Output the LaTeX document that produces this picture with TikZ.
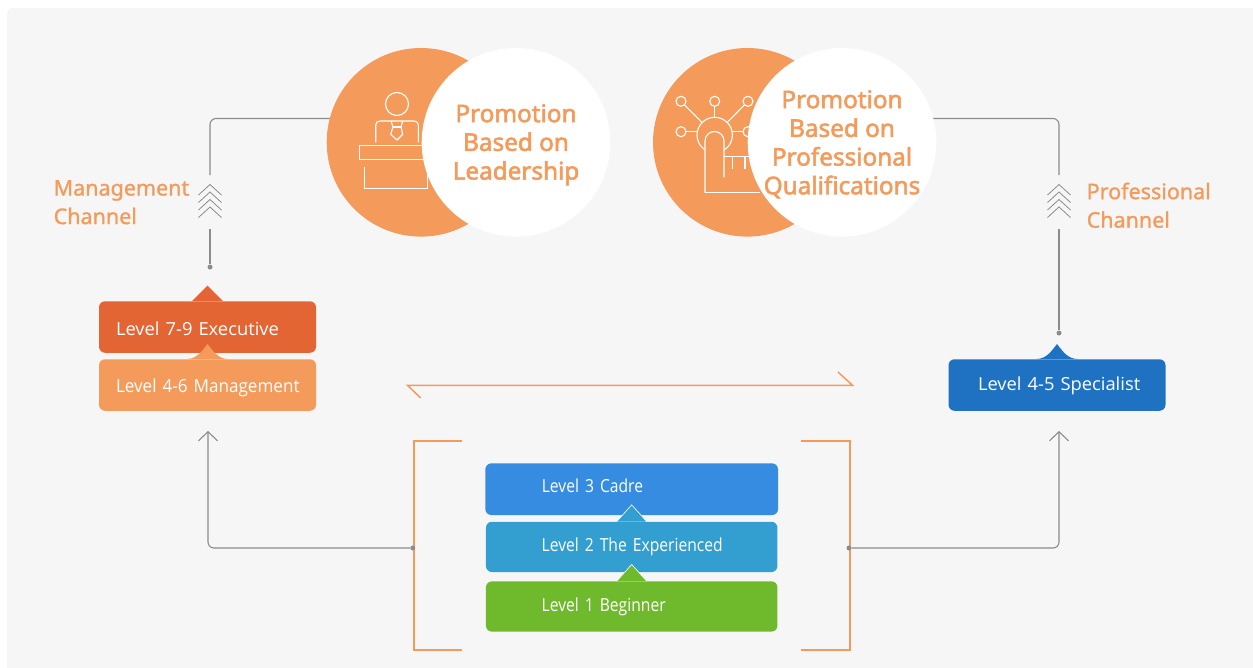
\documentclass[tikz,border=0pt]{standalone}
\usepackage{fontspec}
\usetikzlibrary{arrows.meta}
\setmainfont{Open Sans}
\newfontfamily\headf[FakeBold=2.2]{Noto Sans}
\newfontfamily\chanf[FakeBold=1.2]{Noto Sans}
\newfontfamily\lvw[FakeStretch=1.02]{Open Sans}
\newfontfamily\lvf[FakeStretch=0.95]{Open Sans}
\newfontfamily\lvn[FakeStretch=0.87]{Open Sans}
\definecolor{panel}{HTML}{F6F6F6}
\definecolor{org}{HTML}{F49B5B}
\definecolor{ln}{HTML}{8C8C8C}
\definecolor{cexec}{HTML}{E36533}
\definecolor{cspec}{HTML}{1E72C1}
\definecolor{cthree}{HTML}{368CE1}
\definecolor{ctwo}{HTML}{339FD0}
\definecolor{cone}{HTML}{6FBA2C}
\tikzset{
  lv/.style n args={4}{draw=none,fill=#3,rounded corners=6,minimum width=#1pt,minimum height=#4pt,
     text width=#1pt-2pt,text height=12pt,text depth=4pt,inner xsep=0pt,inner ysep=0pt,align=left,text=white,
     execute at begin node={\hspace*{#2pt}}},
  big/.style={circle,fill=org,minimum size=188.6pt,inner sep=0pt},
  wht/.style={circle,fill=white,minimum size=188.6pt,inner sep=0pt},
  whtt/.style={text=org,align=center,inner sep=0pt,font=\headf\fontsize{24.3}{28.7}\selectfont},
  chan/.style={text=org,align=left,anchor=north west,inner sep=0pt,font=\chanf\fontsize{21.5}{28.5}\selectfont},
  gl/.style={draw=ln,line width=1.1pt,rounded corners=6pt},
  ol/.style={draw=org,line width=1.5pt},
  dotn/.style={circle,fill=ln,inner sep=0pt,minimum size=5pt},
  ic/.style={draw=white,line width=1.1pt},
  barb/.style={-{Straight Barb[length=9pt,width=19pt,line width=1.1pt]}}
}
\begin{document}
\begin{tikzpicture}[x=1pt,y=-1pt]
\useasboundingbox (0,0) rectangle (1253,667);
\fill[white] (0,0) rectangle (1253,667);
\fill[panel,rounded corners=6pt] (7,8) rectangle (1262,690);
% coordinates and dots
\coordinate (lin) at (421,118.5);
\coordinate (rin) at (842,118.5);
\coordinate (lbend) at (210,118.5);
\coordinate (rbend) at (1059,118.5);
\coordinate (lch) at (210,175);
\coordinate (rch) at (1059,175);
\coordinate (lcb) at (210,229);
\coordinate (rcb) at (1059,229);
% orange brackets and arrow
\coordinate (ha) at (420.7,398);
\coordinate (hb) at (407.5,385.3);
\coordinate (hc) at (852.5,385.3);
\coordinate (hd) at (838,372);
\draw[ol] (ha) -- (hb) -- (hc) -- (hd);
\coordinate (brka) at (462,441.2);
\coordinate (brkb) at (413.8,441.2);
\coordinate (brkc) at (413.8,649.8);
\coordinate (brkd) at (462,649.8);
\draw[ol] (brka) -- (brkb) -- (brkc) -- (brkd);
\coordinate (brke) at (801,441.2);
\coordinate (brkf) at (849.8,441.2);
\coordinate (brkg) at (849.8,649.8);
\coordinate (brkh) at (801,649.8);
\draw[ol] (brke) -- (brkf) -- (brkg) -- (brkh);
\node[dotn] (ldot) at (210,267) {};
\node[dotn] (rdot) at (1059,333) {};
\node[dotn] (bl) at (412.8,548) {};
\node[dotn] (br) at (849,548) {};
\coordinate (al) at (208,431);
\coordinate (ar) at (1059,431);
\draw[gl] (lin) -- (lbend) -- (lch);
\draw[gl] (rin) -- (rbend) -- (rch);
\draw[gl] (lcb) -- (ldot);
\draw[gl] (rcb) -- (rdot);
\draw[gl,barb] (bl) -- (al |- bl) -- (al);
\draw[gl,barb] (br) -- (ar |- br) -- (ar);
% chevrons
\foreach \c in {lch,rch}{
  \foreach \d in {9.5,17,24.5,32}{
    \draw[draw=ln,line width=.8pt] ([xshift=-11.5pt,yshift=-\d pt-10.5pt]\c) -- ([yshift=-\d pt]\c) -- ([xshift=11.5pt,yshift=-\d pt-10.5pt]\c);
  }
}
% circles
\node[big] (ca) at (421,142.3) {};
\node[big] (cb) at (747.3,142.3) {};
% icon 1
\draw[ic] (397,104) circle (11.5);
\draw[ic,rounded corners=4pt] (375.7,142.3) -- (375.7,121) -- (418.3,121) -- (418.3,142.3);
\draw[ic,line join=round] (391,121) -- (393,127) -- (390.7,134.3) -- (397,140) -- (402.7,134.3) -- (401,127) -- (402.7,121);
\draw[ic] (393,127) -- (401,127);
\draw[ic] (430,145.3) -- (359.3,145.3) -- (359.3,159.3) -- (430,159.3);
\draw[ic] (364.3,167) -- (364.3,188.7) -- (427.7,188.7) -- (427.7,170);
% icon 2
\foreach \p in {(681,101.3),(714.7,101.3),(748,101.3),(681,131.7),(748,131.7)} \draw[ic] \p circle (5);
\draw[ic] (714.7,135) circle (17.7);
\draw[ic] (684.6,104.9) -- (702.2,122.5);
\draw[ic] (714.7,106.3) -- (714.7,117.3);
\draw[ic] (744.4,104.9) -- (727.2,122.5);
\draw[ic] (686,131.7) -- (697.2,131.7);
\draw[ic] (743,131.7) -- (732.2,131.7);
\draw[ic,fill=org] (705,192.7) -- (705,141) arc (180:360:9.5) -- (724,177.3);
\draw[ic] (705,192.7) -- (760,192.7);
\draw[ic] (724,156.7) -- (770,156.7);
\draw[ic] (732.7,156.7) -- (732.7,169);
\draw[ic] (745,156.7) -- (745,169);
% white circles
\node[wht] (wa) at (516,142.3) {};
\node[wht] (wb) at (842,142.3) {};
\node[whtt] (ta) at ([yshift=-2.5pt]wa.center) {Promotion\\Based on\\Leadership};
\node[whtt] (tb) at ([yshift=-2pt]wb.center) {Promotion\\Based on\\Professional\\Qualifications};
% channel labels
\node[chan] (mc) at (53.5,180) {Management\\Channel};
\node[chan] (pc) at (1086.5,182.5) {Professional\\Channel};
% level boxes
\node[lv={217}{16}{cexec}{51.5},font=\lvw\fontsize{18}{20}\selectfont] (exec) at (207.5,327) {\raisebox{-4pt}{Level 7-9 Executive}};
\fill[cexec] ([xshift=-15.5pt]exec.north) -- ([yshift=15.5pt]exec.north) -- ([xshift=15.5pt]exec.north) -- cycle;
\node[lv={217}{16}{org}{51.5},font=\lvf\fontsize{18}{20}\selectfont] (mgmt) at (207.5,385) {\raisebox{-3.7pt}{Level 4-6 Management}};
\fill[org] ([xshift=-21pt]mgmt.north) .. controls +(11,0) and +(-5,6) .. ([yshift=15pt]mgmt.north) .. controls +(5,6) and +(-11,0) .. ([xshift=21pt]mgmt.north) -- cycle;
\node[lv={217}{28.5}{cspec}{51.5},font=\lvw\fontsize{18}{20}\selectfont] (spec) at (1057,385) {\raisebox{-1pt}{Level 4-5 Specialist}};
\fill[cspec] ([xshift=-21pt]spec.north) .. controls +(11,0) and +(-5,6) .. ([yshift=15pt]spec.north) .. controls +(5,6) and +(-11,0) .. ([xshift=21pt]spec.north) -- cycle;
\node[lv={292.7}{55.5}{cthree}{51.7},font=\lvn\fontsize{18}{20}\selectfont] (l3) at (631.7,489.2) {\raisebox{.9pt}{Level 3 Cadre}};
\node[lv={291.5}{54.7}{ctwo}{50.3},font=\lvn\fontsize{18}{20}\selectfont] (l2) at (631.7,546.9) {\raisebox{-.4pt}{Level 2 The Experienced}};
\node[lv={291.5}{54.7}{cone}{50.3},font=\lvn\fontsize{18}{20}\selectfont] (l1) at (631.7,606.5) {\raisebox{-.8pt}{Level 1 Beginner}};
\fill[ctwo] ([xshift=-15pt]l2.north) -- ([yshift=16.7pt]l2.north) -- ([xshift=15pt]l2.north) -- cycle;
\draw[white,line width=.6pt] ([xshift=-15pt]l2.north) -- ([yshift=16.7pt]l2.north) -- ([xshift=15pt]l2.north);
\fill[cone] ([xshift=-15pt]l1.north) -- ([yshift=16.7pt]l1.north) -- ([xshift=15pt]l1.north) -- cycle;
\draw[white,line width=.6pt] ([xshift=-15pt]l1.north) -- ([yshift=16.7pt]l1.north) -- ([xshift=15pt]l1.north);
\end{tikzpicture}
\end{document}
